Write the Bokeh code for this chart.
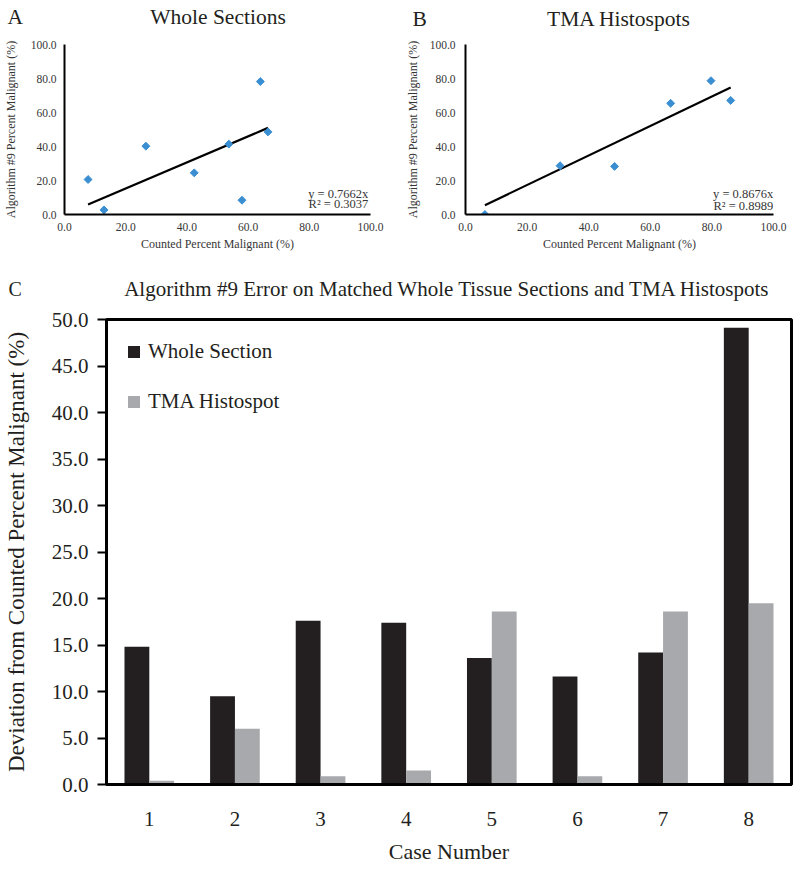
from bokeh.plotting import figure
from bokeh.layouts import column, row
from bokeh.models import (Range1d, FixedTicker, PrintfTickFormatter, Label, Legend,
                          LegendItem, ColumnDataSource)
from bokeh.transform import dodge
from bokeh.embed import file_html
from bokeh.resources import INLINE

# ---------------- data ----------------
whole_counted = [7.7, 12.9, 26.6, 42.4, 53.7, 58.0, 64.0, 66.5]
whole_algo = [20.6, 2.7, 40.2, 24.5, 41.4, 8.4, 78.2, 48.6]
whole_slope = 0.7662
whole_r2 = 0.3037

tma_counted = [6.3, 30.7, 48.4, 66.6, 79.7, 86.1]
tma_algo = [0.0, 28.7, 28.3, 65.4, 78.7, 67.1]
tma_slope = 0.8676
tma_r2 = 0.8989

scatter_ticks = [0, 20, 40, 60, 80, 100]

cases = [1, 2, 3, 4, 5, 6, 7, 8]
whole_error = [14.8, 9.5, 17.6, 17.4, 13.6, 11.6, 14.2, 49.1]
tma_error = [0.4, 6.0, 0.9, 1.5, 18.6, 0.9, 18.6, 19.5]
bar_ticks = [0, 5, 10, 15, 20, 25, 30, 35, 40, 45, 50]

FONT = "Liberation Serif"
BLUE = "#3a8ed2"
DARK = "#231f20"
GRAY = "#a7a9ac"
TXT = "#231f20"
SOFT = "#363636"


def header(width, height, items):
    """A text-only strip holding a panel letter and a panel title."""
    h = figure(width=width, height=height, x_range=Range1d(0, width),
               y_range=Range1d(0, height), output_backend="svg", toolbar_location=None,
               min_border=0, x_axis_location=None, y_axis_location=None)
    h.grid.visible = False
    h.outline_line_color = None
    for (x, y, txt, size, align) in items:
        h.add_layout(Label(x=x, y=y, text=txt, text_align=align, text_baseline="middle",
                           text_font=FONT, text_font_size=size, text_color=TXT))
    return h


def scatter_panel(xs, ys, slope, r2, left, right, lab_off, axlab_off, eq_x, eq_y1, eq_y2):
    p = figure(width=400, height=244, x_range=Range1d(0, 100), y_range=Range1d(0, 100),
               output_backend="svg", toolbar_location=None,
               min_border_left=left, min_border_right=right,
               min_border_top=12, min_border_bottom=62,
               x_axis_label="Counted Percent Malignant (%)",
               y_axis_label="Algorithm #9 Percent Malignant (%)")
    p.outline_line_color = None
    p.grid.visible = False
    for ax in (p.xaxis[0], p.yaxis[0]):
        ax.ticker = FixedTicker(ticks=scatter_ticks)
        ax.formatter = PrintfTickFormatter(format="%.1f")
        ax.major_tick_line_color = None
        ax.major_tick_out = 0
        ax.major_tick_in = 0
        ax.minor_tick_line_color = None
        ax.axis_line_color = "black"
        ax.axis_line_width = 2
        ax.major_label_text_font = FONT
        ax.major_label_text_font_size = "11.5px"
        ax.major_label_text_color = SOFT
        ax.axis_label_text_font = FONT
        ax.axis_label_text_font_size = "12px"
        ax.axis_label_text_font_style = "normal"
        ax.axis_label_text_color = SOFT
    p.xaxis.major_label_standoff = 8
    p.xaxis.axis_label_standoff = 3
    p.yaxis.major_label_standoff = lab_off
    p.yaxis.axis_label_standoff = axlab_off

    x0, x1 = min(xs), max(xs)
    p.line([x0, x1], [slope * x0, slope * x1], line_color="black", line_width=2.2)
    p.scatter(xs, ys, marker="square", size=5.6, angle=0.785398,
              fill_color=BLUE, line_color=BLUE)

    p.add_layout(Label(x=eq_x, y=eq_y1, text=f"y = {slope}x", text_align="right",
                       text_baseline="middle", text_font=FONT, text_font_size="12.5px",
                       text_color=SOFT))
    p.add_layout(Label(x=eq_x, y=eq_y2, text=f"R\u00b2 = {r2}", text_align="right",
                       text_baseline="middle", text_font=FONT, text_font_size="12.5px",
                       text_color=SOFT))
    return p


hA = header(400, 32, [(7, 16, "A", "21.5px", "left"),
                      (217.5, 16, "Whole Sections", "21.5px", "center")])
hB = header(400, 32, [(12, 13.3, "B", "21.5px", "left"),
                      (218.5, 13.3, "TMA Histospots", "21.5px", "center")])
pA = scatter_panel(whole_counted, whole_algo, whole_slope, whole_r2, 62, 30, 8, 10,
                   99.3, 12.3, 5.9)
pB = scatter_panel(tma_counted, tma_algo, tma_slope, tma_r2, 65, 27, 10, 7,
                   99.9, 11.9, 4.9)

# ---------------- panel C ----------------
hC = header(800, 28, [(8, 16, "C", "20px", "left"),
                      (447, 16, "Algorithm #9 Error on Matched Whole Tissue Sections and TMA Histospots",
                       "21px", "center")])

src = ColumnDataSource(dict(case=cases, whole=whole_error, tma=tma_error))
pC = figure(width=800, height=565, x_range=Range1d(0.5, 8.5), y_range=Range1d(0, 50),
            output_backend="svg", toolbar_location=None,
            min_border_left=103, min_border_right=9, min_border_top=15, min_border_bottom=85,
            x_axis_label="Case Number",
            y_axis_label="Deviation from Counted Percent Malignant (%)")
pC.grid.visible = False
pC.outline_line_color = "black"
pC.outline_line_width = 3
pC.outline_line_alpha = 1

bw = 0.29
r1 = pC.vbar(x=dodge("case", -bw / 2, range=pC.x_range), top="whole", width=bw,
             source=src, fill_color=DARK, line_color=None)
r2 = pC.vbar(x=dodge("case", bw / 2, range=pC.x_range), top="tma", width=bw,
             source=src, fill_color=GRAY, line_color=None)

for ax in (pC.xaxis[0], pC.yaxis[0]):
    ax.axis_line_color = "black"
    ax.axis_line_width = 3
    ax.minor_tick_line_color = None
    ax.major_label_text_font = FONT
    ax.major_label_text_font_size = "21px"
    ax.major_label_text_color = TXT
    ax.axis_label_text_font = FONT
    ax.axis_label_text_font_style = "normal"
    ax.axis_label_text_color = TXT
pC.yaxis.axis_label_text_font_size = "23px"
pC.xaxis.axis_label_text_font_size = "22px"
pC.yaxis.ticker = FixedTicker(ticks=bar_ticks)
pC.yaxis.formatter = PrintfTickFormatter(format="%.1f")
pC.yaxis.major_tick_out = 9
pC.yaxis.major_tick_in = 0
pC.yaxis.major_tick_line_width = 2
pC.yaxis.major_label_standoff = 9
pC.yaxis.axis_label_standoff = 20
pC.xaxis.ticker = FixedTicker(ticks=cases)
pC.xaxis.major_tick_line_color = None
pC.xaxis.major_tick_out = 0
pC.xaxis.major_tick_in = 0
pC.xaxis.major_label_standoff = 27
pC.xaxis.axis_label_standoff = 10

legend = Legend(items=[LegendItem(label="Whole Section", renderers=[r1]),
                       LegendItem(label="TMA Histospot", renderers=[r2])],
                location="top_left", glyph_width=15, glyph_height=15,
                label_text_font=FONT, label_text_font_size="21px", label_text_color=TXT,
                label_standoff=7, spacing=25, margin=20, padding=0,
                border_line_color=None, background_fill_alpha=0)
pC.add_layout(legend)

layout = column(row(hA, hB), row(pA, pB), row(hC), pC)
open("out.html", "w").write(file_html(layout, INLINE))
